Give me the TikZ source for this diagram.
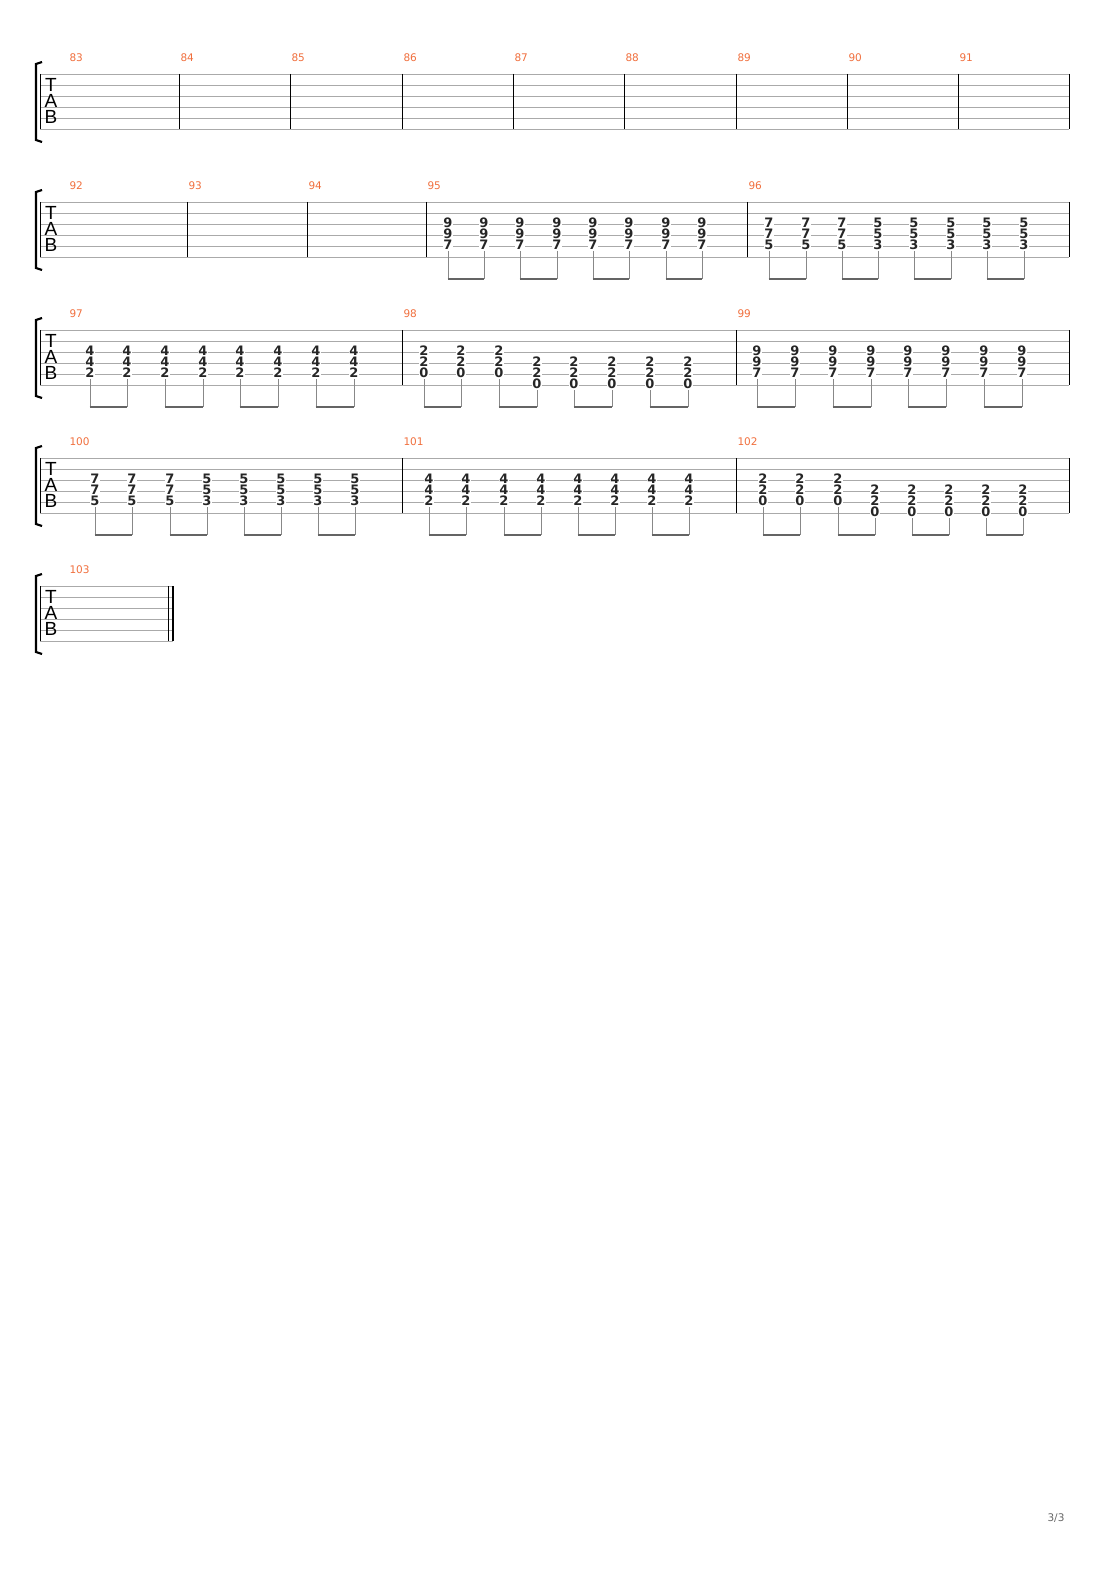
\documentclass[tikz,border=0pt]{standalone}
\usepackage{fontspec}
\setmainfont{DejaVu Sans}
\setsansfont{Liberation Sans}
\definecolor{barnum}{RGB}{240,110,60}
\definecolor{staffgray}{RGB}{170,170,170}
\definecolor{beamgray}{RGB}{100,100,100}
\tikzset{
  staffline/.style={staffgray, line width=0.8pt},
  barline/.style={black, line width=0.9pt},
  fret/.style={fill=white, inner sep=0.2pt, text=black!85, font=\fontsize{13}{13}\selectfont\bfseries},
  measnum/.style={barnum, anchor=west, font=\fontsize{10.5}{10.5}\selectfont},
  tabletter/.style={font=\sffamily\fontsize{19}{19}\selectfont},
  stem/.style={staffgray!80!black, line width=0.8pt},
  beam/.style={beamgray, line width=2.8pt}
}
% staff with bracket and TAB clef: top, right end
\newcommand\tabstaff[2]{%
  \foreach \k in {0,...,5} \draw[staffline] (40,#1+11*\k) -- (#2,#1+11*\k);
  \draw[line width=2.2pt] (42,#1-12) -- (36,#1-10) -- (36,#1+66) -- (42,#1+68);
  \draw[black, line width=0.6pt] (40,#1) -- (40,#1+55);
  \node[tabletter] at (51,#1+11) {T};
  \node[tabletter] at (51,#1+27) {A};
  \node[tabletter] at (51,#1+43) {B};
}
% three-note chord: x, top, lowest string, frets from high to low
\newcommand\chord[6]{%
  \node[fret] at (#1,#2+11*#3-34) {#4};
  \node[fret] at (#1,#2+11*#3-23) {#5};
  \node[fret] at (#1,#2+11*#3-12) {#6};
}
% two beamed eighths: x1, low string 1, x2, low string 2, top
\newcommand\pair[5]{%
  \draw[stem] (#1,#5+11*#2-6) -- (#1,#5+77);
  \draw[stem] (#3,#5+11*#4-6) -- (#3,#5+77);
  \draw[beam] (#1-0.4,#5+77) -- (#3+0.4,#5+77);
}
\begin{document}
\begin{tikzpicture}[x=1pt,y=-1pt]
\useasboundingbox (0,0) rectangle (1110,1570);

% system 1
\tabstaff{74}{1069}
\foreach \b in {179,290,402,513,624,736,847,958,1069} \draw[barline] (\b,74) -- (\b,129);
\foreach \b/\n in {66/83,177/84,288/85,400/86,511/87,622/88,734/89,845/90,956/91}
  \node[measnum] at (\b,58) {\n};

% system 2
\tabstaff{202}{1069}
\foreach \b in {187,307,426,747,1069} \draw[barline] (\b,202) -- (\b,257);
\foreach \b/\n in {66/92,185/93,305/94,424/95,745/96}
  \node[measnum] at (\b,186) {\n};
\foreach \x in {448,484,520,557,593,629,666,702} \chord{\x}{202}{5}{9}{9}{7};
\foreach \x in {769,806,842} \chord{\x}{202}{5}{7}{7}{5};
\foreach \x in {878,914,951,987,1024} \chord{\x}{202}{5}{5}{5}{3};
\foreach \a/\b in {448/484,520/557,593/629,666/702,769/806,842/878,914/951,987/1024}
  \pair{\a}{5}{\b}{5}{202};

% system 3
\tabstaff{330}{1069}
\foreach \b in {402,736,1069} \draw[barline] (\b,330) -- (\b,385);
\foreach \b/\n in {66/97,400/98,734/99}
  \node[measnum] at (\b,314) {\n};
\foreach \x in {90,127,165,203,240,278,316,354} \chord{\x}{330}{5}{4}{4}{2};
\foreach \x in {424,461,499} \chord{\x}{330}{5}{2}{2}{0};
\foreach \x in {537,574,612,650,688} \chord{\x}{330}{6}{2}{2}{0};
\foreach \x in {757,795,833,871,908,946,984,1022} \chord{\x}{330}{5}{9}{9}{7};
\foreach \a/\b in {90/127,165/203,240/278,316/354,757/795,833/871,908/946,984/1022}
  \pair{\a}{5}{\b}{5}{330};
\pair{424}{5}{461}{5}{330}
\pair{499}{5}{537}{6}{330}
\foreach \a/\b in {574/612,650/688} \pair{\a}{6}{\b}{6}{330};

% system 4
\tabstaff{458}{1069}
\foreach \b in {402,736,1069} \draw[barline] (\b,458) -- (\b,513);
\foreach \b/\n in {66/100,400/101,734/102}
  \node[measnum] at (\b,442) {\n};
\foreach \x in {95,132,170} \chord{\x}{458}{5}{7}{7}{5};
\foreach \x in {207,244,281,318,355} \chord{\x}{458}{5}{5}{5}{3};
\foreach \x in {429,466,504,541,578,615,652,689} \chord{\x}{458}{5}{4}{4}{2};
\foreach \x in {763,800,838} \chord{\x}{458}{5}{2}{2}{0};
\foreach \x in {875,912,949,986,1023} \chord{\x}{458}{6}{2}{2}{0};
\foreach \a/\b in {95/132,170/207,244/281,318/355,429/466,504/541,578/615,652/689,763/800}
  \pair{\a}{5}{\b}{5}{458};
\pair{838}{5}{875}{6}{458}
\foreach \a/\b in {912/949,986/1023} \pair{\a}{6}{\b}{6}{458};

% system 5, final bar
\tabstaff{586}{173}
\draw[barline] (168,586) -- (168,641);
\draw[line width=2.6pt] (173,586) -- (173,641);
\node[measnum] at (66,570) {103};

% page number
\node[staffgray!60!black, font=\fontsize{10.5}{10.5}\selectfont] at (1056,1518) {3/3};
\end{tikzpicture}
\end{document}
